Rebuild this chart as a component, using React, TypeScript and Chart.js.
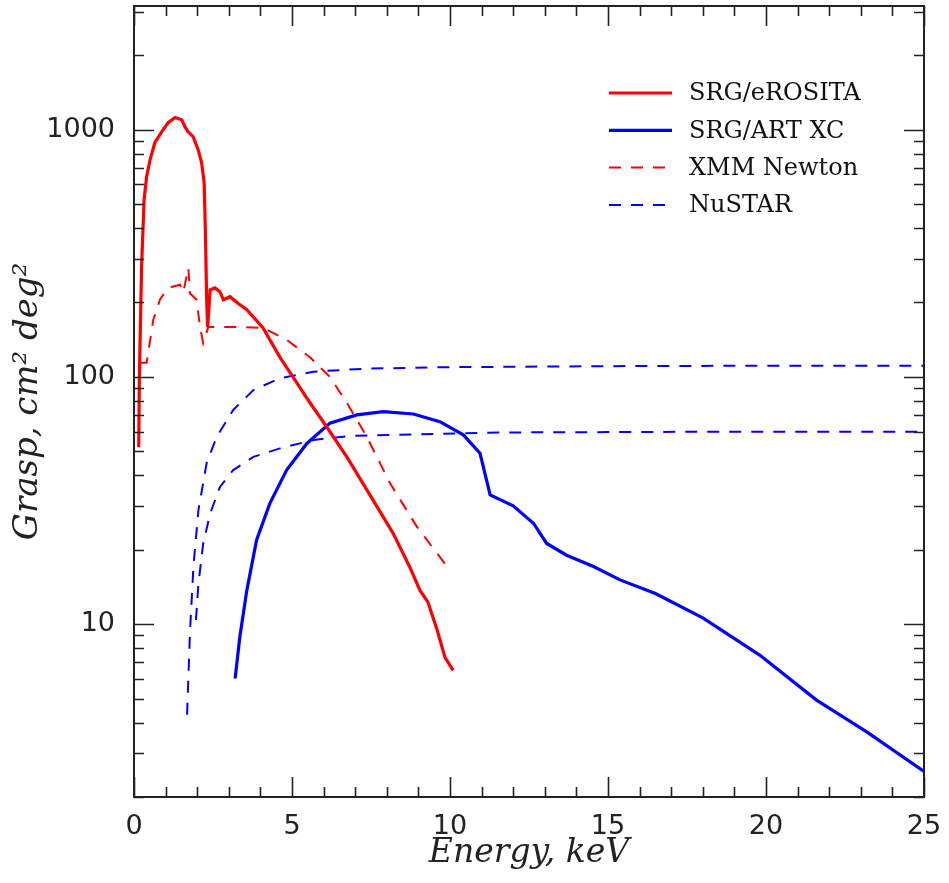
import React, { useEffect, useRef } from "react";
import { Chart, registerables } from "chart.js";

Chart.register(...registerables);

// ---- Data ----
const xTickValues = [0, 5, 10, 15, 20, 25];
const yTickValues = [10, 100, 1000];

const erositaEnergy = [0.15, 0.17, 0.24, 0.32, 0.40, 0.51, 0.66, 0.88, 1.08, 1.30, 1.51, 1.61, 1.71, 1.87, 2.03, 2.14, 2.22, 2.26, 2.30, 2.33, 2.41, 2.56, 2.72, 2.83, 3.04, 3.30, 3.57, 4.08, 4.62, 5.03, 5.5, 6.1, 6.74, 7.56, 8.2, 8.73, 9.05, 9.3, 9.59, 9.84, 10.1];
const erositaGrasp = [52, 100, 279, 521, 646, 757, 885, 981, 1067, 1119, 1097, 1028, 981, 937, 830, 735, 610, 383, 205, 159, 225, 229, 221, 205, 211, 198, 187, 158, 120, 100, 81, 62.7, 47.4, 31.8, 23.3, 17.0, 13.7, 12.3, 9.5, 7.35, 6.5];

const artxcEnergy = [3.2, 3.35, 3.57, 3.88, 4.30, 4.83, 5.47, 6.2, 7.05, 7.89, 8.84, 9.68, 10.42, 10.95, 11.27, 12.0, 12.64, 13.06, 13.69, 14.54, 15.38, 16.5, 18, 19.8, 21.6, 23.2, 25];
const artxcGrasp = [6.03, 8.89, 13.7, 21.9, 30.8, 42, 53.8, 65, 70.2, 72.4, 70.8, 65.9, 58.3, 49.1, 33.3, 30.1, 25.6, 21.2, 19.0, 17.1, 15.1, 13.3, 10.6, 7.5, 4.93, 3.66, 2.54];

const xmmEnergy = [0.19, 0.40, 0.61, 0.82, 0.98, 1.19, 1.46, 1.56, 1.72, 1.77, 1.98, 2.09, 2.19, 2.35, 2.72, 3.35, 4.08, 4.84, 5.57, 6.2, 6.74, 7.37, 8.1, 8.96, 10.0];
const xmmGrasp = [114, 114, 170, 205, 220, 231, 236, 220, 276, 218, 205, 159, 137, 159, 159, 159, 158, 141, 120, 100, 78.4, 57.2, 37.2, 24.7, 16.5];

const nustarUpperEnergy = [1.68, 1.77, 1.88, 2.04, 2.30, 2.62, 3.14, 3.78, 4.62, 5.68, 7.36, 10, 15, 20, 25];
const nustarUpperGrasp = [4.3, 9.2, 17.1, 29, 44.9, 57.3, 73.5, 88.5, 98.8, 105, 108, 109.5, 110.5, 111, 111];

const nustarLowerEnergy = [1.96, 2.04, 2.19, 2.41, 2.72, 3.14, 3.78, 4.62, 5.68, 6.84, 11.6, 18, 25];
const nustarLowerGrasp = [10.4, 14.6, 21.2, 28, 35.9, 42, 47.5, 51.4, 55.6, 57.7, 59.6, 60, 60];

const toPoints = (xs: number[], ys: number[]) => xs.map((x, i) => ({ x, y: ys[i] }));

const RED = "rgb(255,0,0)";
const BLUE = "rgb(0,0,255)";
const AXIS = "#222";

const framePlugin = {
  id: "frameTicksLegend",
  afterDatasetsDraw(chart: any) {
    const { ctx, chartArea: a, scales } = chart;
    const xs = scales.x;
    const ys = scales.y;
    ctx.save();
    // frame
    ctx.strokeStyle = AXIS;
    ctx.lineWidth = 2;
    ctx.strokeRect(a.left, a.top, a.right - a.left, a.bottom - a.top);
    // inward ticks
    ctx.lineWidth = 1.6;
    ctx.beginPath();
    for (let v = xs.min; v <= xs.max; v++) {
      const px = Math.round(xs.getPixelForValue(v)) + 0.5;
      const len = v % 5 === 0 ? 20 : 10;
      ctx.moveTo(px, a.bottom);
      ctx.lineTo(px, a.bottom - len);
      ctx.moveTo(px, a.top);
      ctx.lineTo(px, a.top + len);
    }
    for (let d = 1; d <= 1000; d *= 10) {
      for (let m = 1; m <= 9; m++) {
        const v = m * d;
        if (v < ys.min || v > ys.max) continue;
        const py = Math.round(ys.getPixelForValue(v)) + 0.5;
        const len = m === 1 ? 20 : 10;
        ctx.moveTo(a.left, py);
        ctx.lineTo(a.left + len, py);
        ctx.moveTo(a.right, py);
        ctx.lineTo(a.right - len, py);
      }
    }
    ctx.stroke();

    // legend
    const items = chart.data.datasets.filter((d: any) => d.label);
    const x0 = 609, x1 = 672, tx = 689, y0 = 93, dy = 37.3;
    ctx.font = "24px 'DejaVu Serif'";
    ctx.fillStyle = "#111";
    ctx.textBaseline = "middle";
    ctx.textAlign = "left";
    items.forEach((d: any, i: number) => {
      const y = y0 + i * dy;
      ctx.beginPath();
      ctx.strokeStyle = d.borderColor;
      ctx.lineWidth = d.borderWidth;
      ctx.setLineDash(d.borderDash || []);
      ctx.moveTo(x0, y);
      ctx.lineTo(x1, y);
      ctx.stroke();
      ctx.setLineDash([]);
      ctx.fillText(d.label, tx, y + 1);
    });
    ctx.restore();
  },
};

export default function App() {
  const ref = useRef<HTMLCanvasElement | null>(null);

  useEffect(() => {
    if (!ref.current) return;
    const solid = { borderWidth: 3.2, pointRadius: 0, tension: 0, fill: false };
    const dashed = { borderWidth: 2, pointRadius: 0, tension: 0, fill: false, borderDash: [12, 10] };
    const chart = new Chart(ref.current, {
      type: "line",
      data: {
        datasets: [
          { label: "SRG/eROSITA", data: toPoints(erositaEnergy, erositaGrasp), borderColor: RED, ...solid },
          { label: "SRG/ART XC", data: toPoints(artxcEnergy, artxcGrasp), borderColor: BLUE, ...solid },
          { label: "XMM Newton", data: toPoints(xmmEnergy, xmmGrasp), borderColor: RED, ...dashed },
          { label: "NuSTAR", data: toPoints(nustarUpperEnergy, nustarUpperGrasp), borderColor: BLUE, ...dashed },
          { label: "", data: toPoints(nustarLowerEnergy, nustarLowerGrasp), borderColor: BLUE, ...dashed },
        ],
      },
      options: {
        animation: false,
        responsive: false,
        devicePixelRatio: 1,
        layout: { padding: { left: 0, right: 25, top: 6, bottom: 0 } },
        plugins: { legend: { display: false }, tooltip: { enabled: false } },
        scales: {
          x: {
            type: "linear",
            min: 0,
            max: 25,
            afterBuildTicks: (s: any) => {
              s.ticks = xTickValues.map((v) => ({ value: v }));
            },
            afterFit: (s: any) => {
              s.height = 86;
              s.paddingLeft = 0;
              s.paddingRight = 0;
            },
            grid: { display: false, drawTicks: false },
            border: { display: false },
            ticks: {
              autoSkip: false,
              maxRotation: 0,
              padding: 14,
              color: AXIS,
              font: { family: "'DejaVu Sans'", size: 27 },
            },
            title: {
              display: true,
              text: "Energy, keV",
              color: AXIS,
              font: { family: "'DejaVu Serif'", style: "italic", size: 33 },
              padding: { top: 0, bottom: 10 },
            },
          },
          y: {
            type: "logarithmic",
            min: 2,
            max: 3162,
            afterBuildTicks: (s: any) => {
              s.ticks = yTickValues.map((v) => ({ value: v }));
            },
            afterFit: (s: any) => {
              s.width = 134;
              s.paddingTop = 0;
              s.paddingBottom = 0;
            },
            grid: { display: false, drawTicks: false },
            border: { display: false },
            ticks: {
              autoSkip: false,
              padding: 19,
              color: AXIS,
              font: { family: "'DejaVu Sans'", size: 27 },
              callback: (v: any) => String(v),
            },
            title: {
              display: true,
              text: "Grasp, cm² deg²",
              color: AXIS,
              font: { family: "'DejaVu Serif'", style: "italic", size: 34 },
              padding: { top: 8, bottom: 0 },
            },
          },
        },
      },
      plugins: [framePlugin],
    } as any);
    return () => chart.destroy();
  }, []);

  return (
    <div style={{ position: "absolute", left: 0, top: 0, width: 949, height: 883 }}>
      <canvas ref={ref} width={949} height={883} style={{ display: "block" }} />
    </div>
  );
}
